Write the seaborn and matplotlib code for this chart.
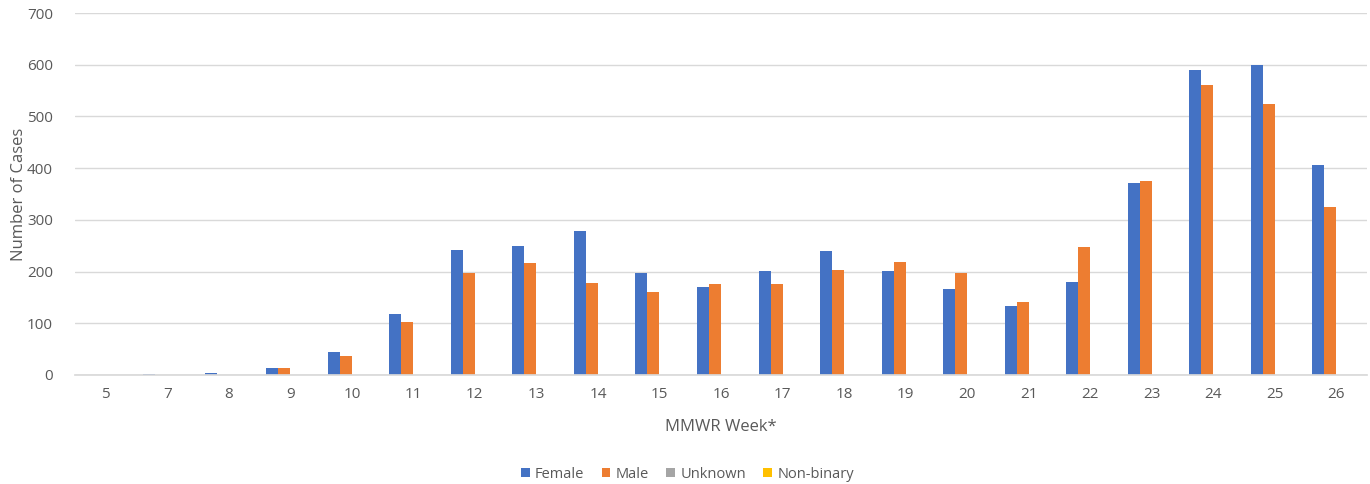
import matplotlib
matplotlib.use("Agg")
import matplotlib.pyplot as plt
import seaborn as sns
import pandas as pd

weeks = ["5", "7", "8", "9", "10", "11", "12", "13", "14", "15", "16", "17",
         "18", "19", "20", "21", "22", "23", "24", "25", "26"]
female = [0, 2, 3, 13, 44, 118, 241, 250, 278, 197, 171, 201, 239, 201, 166, 134, 179, 371, 590, 600, 406]
male = [0, 0, 0, 13, 37, 103, 197, 216, 178, 161, 176, 176, 204, 218, 197, 141, 248, 375, 560, 524, 325]
unknown = [0] * 21
nonbinary = [0] * 21
series_names = ["Female", "Male", "Unknown", "Non-binary"]
colors = ["#4472C4", "#ED7D31", "#A5A5A5", "#FFC000"]

rows = []
for name, vals in zip(series_names, [female, male, unknown, nonbinary]):
    for w, v in zip(weeks, vals):
        rows.append({"week": w, "cases": v, "sex": name})
df = pd.DataFrame(rows)

sns.set_theme(style="white")
plt.rcParams["font.family"] = ["Open Sans", "DejaVu Sans"]

fig = plt.figure(figsize=(13.7, 4.84), dpi=100)
ax = fig.add_axes([75/1370, 1-375/484, (1367-75)/1370, (375-13)/484])

sns.barplot(data=df, x="week", y="cases", hue="sex", order=weeks,
            hue_order=series_names, palette=colors, width=0.78,
            gap=0, saturation=1, ax=ax, errorbar=None, linewidth=0,
            edgecolor="none")

ax.set_ylim(0, 700)
ax.set_yticks(range(0, 701, 100))
ax.yaxis.grid(True, color="#d9d9d9", linewidth=1)
ax.set_axisbelow(True)
for s in ["top", "right", "left"]:
    ax.spines[s].set_visible(False)
ax.spines["bottom"].set_color("#d9d9d9")
ax.tick_params(axis="both", length=0, colors="#595959", labelsize=11)
ax.tick_params(axis="x", pad=9)
ax.tick_params(axis="y", pad=16)
ax.set_xlabel("MMWR Week*", color="#595959", fontsize=12, labelpad=12)
ax.set_ylabel("Number of Cases", color="#595959", fontsize=12, labelpad=0)

leg = ax.legend(loc="center", bbox_to_anchor=(0.474, -0.274), ncol=4,
                frameon=False, fontsize=10.5, handlelength=0.6, handleheight=0.6,
                handletextpad=0.35, columnspacing=1.2)
for t in leg.get_texts():
    t.set_color("#595959")

fig.savefig("out.png", dpi=100, facecolor="white")
